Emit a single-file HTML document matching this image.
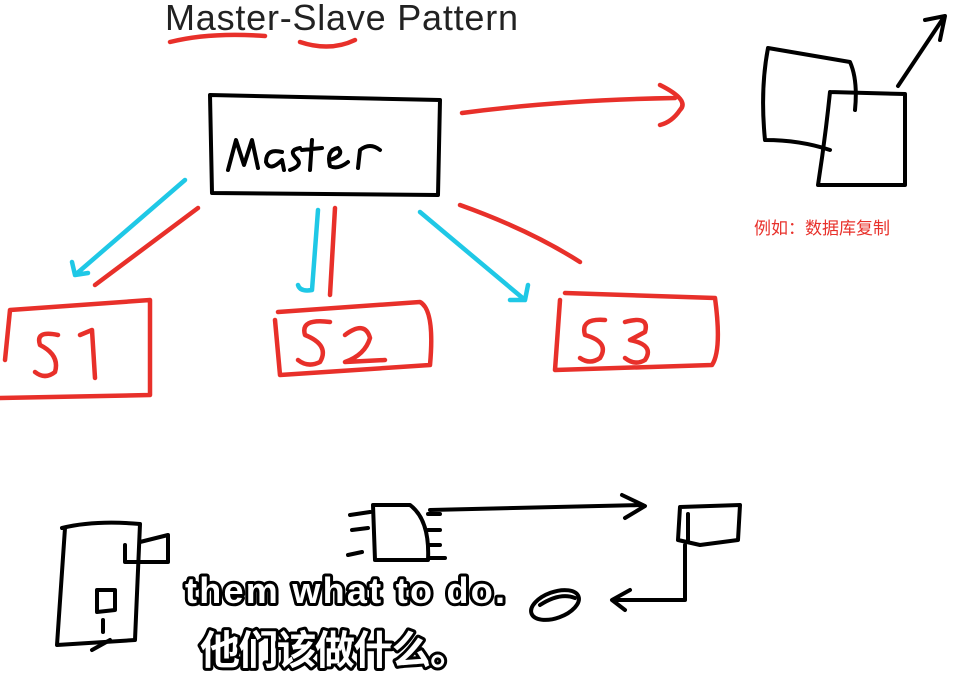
<!DOCTYPE html>
<html><head><meta charset="utf-8"><style>
body{margin:0;background:#fff;width:970px;height:680px;overflow:hidden}
svg{display:block}
.k{fill:none;stroke:#000;stroke-width:4;stroke-linecap:round;stroke-linejoin:round}
.r{fill:none;stroke:#e8302a;stroke-width:4.5;stroke-linecap:round;stroke-linejoin:round}
.c{fill:none;stroke:#1fc8e6;stroke-width:4.5;stroke-linecap:round;stroke-linejoin:round}
.sub{font-family:"Liberation Sans","Noto Sans CJK SC",sans-serif;font-weight:bold;fill:#fff;stroke:#000;stroke-width:6;paint-order:stroke;stroke-linejoin:round}
</style></head><body>
<svg width="970" height="680" viewBox="0 0 970 680">
<text x="165" y="30" font-family="Liberation Sans,sans-serif" font-size="36" fill="#222" textLength="353">Master-Slave Pattern</text>
<path class="r" d="M170 42 Q210 32 265 36 M300 42 Q330 52 355 40"/>
<!-- master box -->
<path class="k" d="M210 95 L440 100 L438 195 L212 193 Z"/>
<path class="k" d="M228 170 L236 140 L244 165 L252 140 L258 168 M282 152 Q266 148 266 162 Q270 172 282 160 L284 170 M300 148 Q288 150 296 158 Q304 165 290 170 M312 140 L310 170 M302 150 L322 148 M330 160 Q345 155 338 148 Q326 150 330 166 Q338 170 348 162 M358 168 L360 150 Q370 142 380 150"/>
<!-- red arrow to right -->
<path class="r" d="M462 113 Q560 100 675 98 M660 85 Q690 100 680 110 Q672 122 660 125"/>
<!-- DB copies -->
<path class="k" d="M768 48 L850 62 Q858 80 855 110 M768 48 Q760 90 765 140 Q800 140 830 150"/>
<path class="k" d="M830 92 L905 94 L905 185 L818 185 Q825 140 830 92"/>
<path class="k" d="M898 86 L942 20 M925 20 L945 16 L940 40"/>
<text x="754" y="234" font-family="Liberation Sans,'Noto Sans CJK SC',sans-serif" font-size="17" fill="#e8302a">例如：数据库复制</text>
<!-- connectors -->
<path class="c" d="M185 180 L75 275 M72 262 L75 275 L88 273"/>
<path class="r" d="M198 208 L95 285"/>
<path class="c" d="M318 210 L312 290 Q300 292 298 285"/>
<path class="r" d="M335 208 L330 295"/>
<path class="c" d="M420 212 L525 300 M510 300 L525 300 L528 285"/>
<path class="r" d="M460 205 Q530 230 580 262"/>
<!-- S boxes -->
<path class="r" d="M10 310 L150 300 L150 395 L0 398 M10 310 L5 360"/>
<path class="r" d="M58 335 Q35 330 40 345 Q60 355 55 372 Q45 380 35 372 M80 335 L92 330 L95 378"/>
<path class="r" d="M278 312 L420 302 Q435 310 430 365 L280 375 L275 320"/>
<path class="r" d="M330 322 Q300 318 305 335 Q330 345 320 362 Q308 368 298 360 M345 335 Q365 320 370 338 Q365 355 345 362 L385 360"/>
<path class="r" d="M565 293 L715 298 Q722 350 712 365 L555 370 L560 300"/>
<path class="r" d="M605 320 Q580 318 585 335 Q610 342 600 358 Q590 365 580 358 M625 322 Q650 315 645 332 L630 340 Q655 345 645 360 Q635 366 625 358"/>
<!-- bottom sketches -->
<path class="k" d="M62 528 Q95 520 140 524 L135 640 L57 645 L65 528 M125 545 L125 562 L168 562 L168 535 L140 542"/>
<path class="k" d="M97 590 L115 590 L115 610 L97 612 Z M103 620 L103 632 M92 650 L110 640"/>
<path class="k" d="M373 505 L410 505 Q430 520 428 560 L375 560 Z M350 515 L370 512 M352 530 L368 528 M348 555 L362 552 M428 514 L440 514 M428 530 L440 530 M430 558 L445 558 M430 545 L440 545"/>
<path class="k" d="M430 510 L640 505 M622 495 L645 506 L625 518"/>
<path class="k" d="M680 507 L740 505 L738 540 L700 545 L678 540 Z M688 514 L688 540 M685 545 L685 600 L615 600 M630 590 L612 600 L625 610"/>
<ellipse class="k" cx="555" cy="605" rx="25" ry="13" transform="rotate(-20 555 605)"/>
<path class="k" d="M540 605 Q560 592 575 598"/>
<text class="sub" x="185" y="603" font-size="36" textLength="320">them what to do.</text>
<text class="sub" x="200" y="664" font-size="40" textLength="270">他们该做什么。</text>
</svg>
</body></html>
